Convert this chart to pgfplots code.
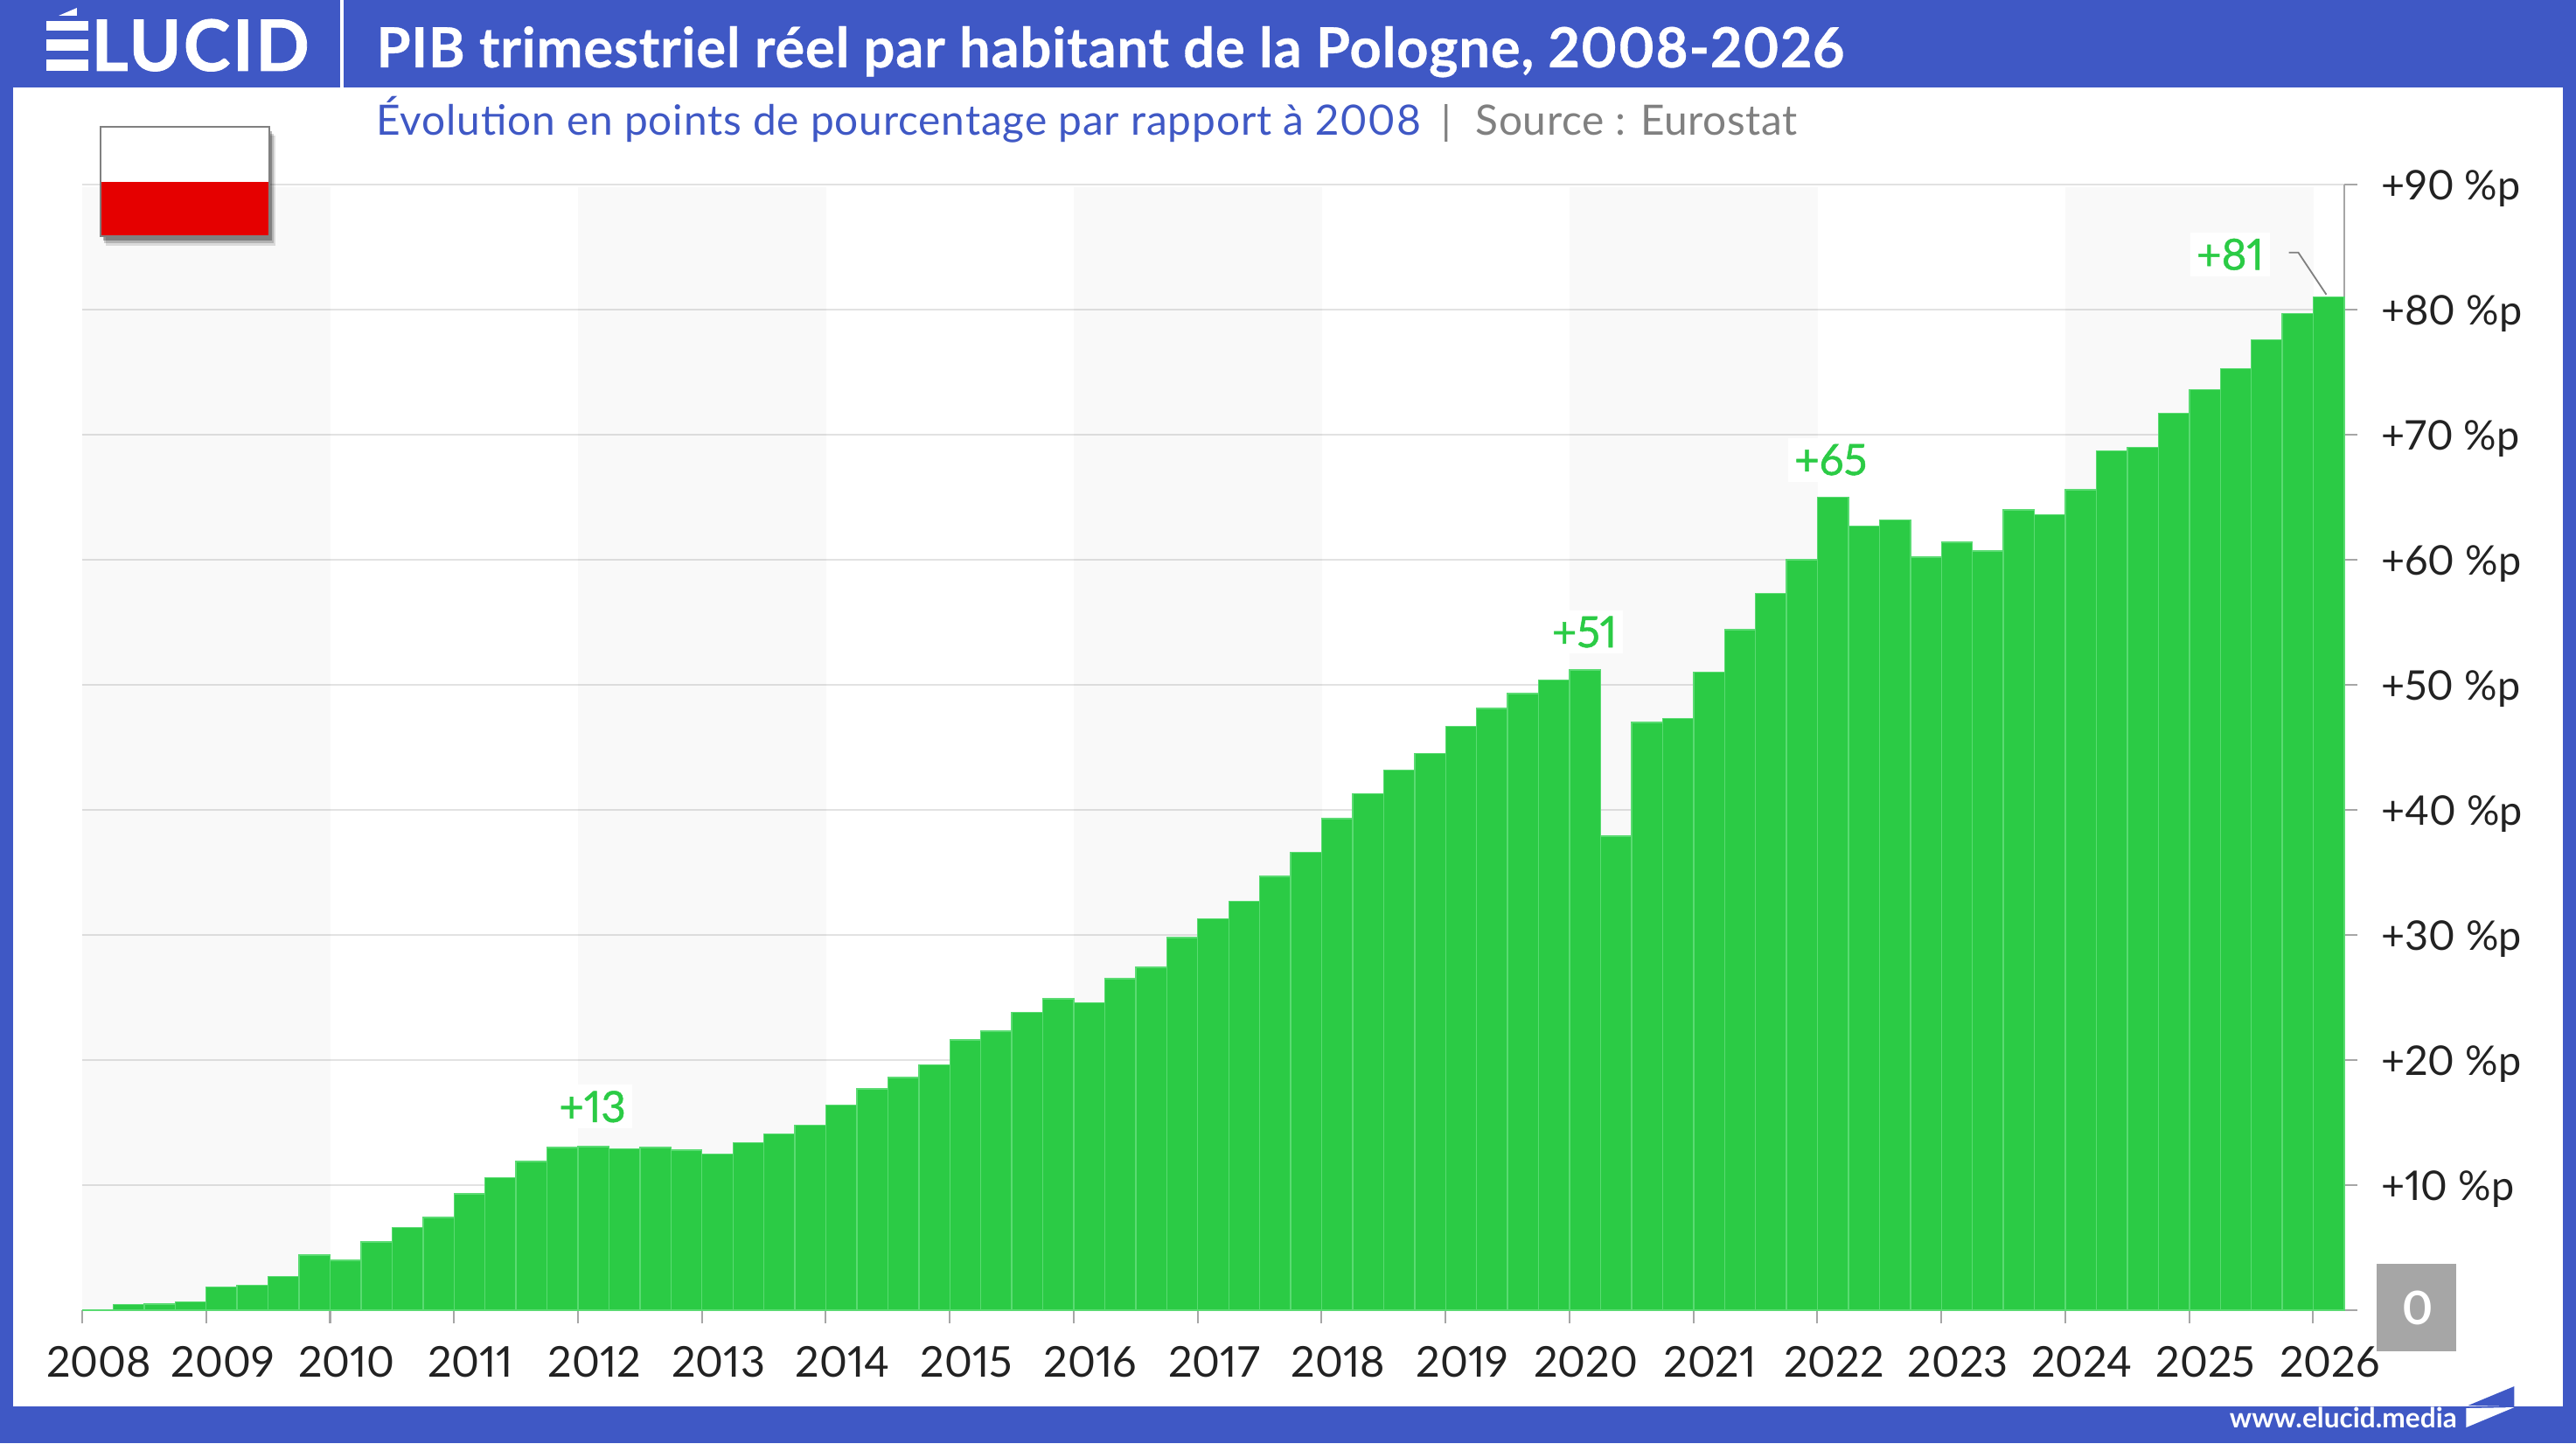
\documentclass[border=0pt]{standalone}
\usepackage{pgfplots}
\pgfplotsset{compat=1.18}
\usepackage{fontspec}
\setmainfont{Lato}[Numbers=Proportional]
\definecolor{eblue}{HTML}{3F58C5}
\definecolor{egreen}{HTML}{2BCB45}
\definecolor{esep}{HTML}{5ADB72}
\definecolor{egrid}{HTML}{E2E2E2}
\definecolor{eaxis}{HTML}{A6A6A6}
\definecolor{etext}{HTML}{222222}
\pgfplotsset{
  layers/barsover/.define layer set={axis background,axis grid,main,axis ticks,axis lines,axis tick labels,axis descriptions,axis foreground}{},
  set layers=barsover,
  band/.style={fill=black,fill opacity=0.022,draw=none},
}
\begin{document}
\begin{tikzpicture}
\fill[eblue] (0,0) rectangle (29.46cm,16.5cm);
% pixels of the reference: x right, y down
\begin{scope}[x=0.01cm,y=-0.01cm,yshift=16.5cm]
\fill[white] (15,100) rectangle (2933,1609);
\end{scope}

\begin{axis}[
  at={(0.94cm,1.52cm)}, anchor=south west,
  scale only axis, width=25.87cm, height=12.87cm,
  xmin=2008, xmax=2026.25, ymin=0, ymax=90,
  axis x line=bottom, axis y line=right,
  axis line style={eaxis,line width=0.6pt,-},
  xtick={2008,2009,...,2026},
  ytick={0,10,...,90},
  yticklabels={,+10 \%p,+20 \%p,+30 \%p,+40 \%p,+50 \%p,+60 \%p,+70 \%p,+80 \%p,+90 \%p},
  tick align=outside, major tick length=0.15cm,
  tick style={eaxis,line width=0.6pt},
  ymajorgrids, grid style={egrid,line width=0.5pt},
  /pgf/number format/assume math mode=true,
  /pgf/number format/set thousands separator={},
  xticklabel style={font=\fontsize{13.8}{14}\selectfont,text=etext,xshift=0.19cm,yshift=-0.14cm},
  yticklabel style={font=\fontsize{13.3}{14}\selectfont,text=etext,anchor=west,xshift=0.15cm,yshift=-0.05cm},
  clip=false,
]
\addplot[band] coordinates {(2008,0)(2010,0)(2010,89.8)(2008,89.8)};
\addplot[band] coordinates {(2012,0)(2014,0)(2014,89.8)(2012,89.8)};
\addplot[band] coordinates {(2016,0)(2018,0)(2018,89.8)(2016,89.8)};
\addplot[band] coordinates {(2020,0)(2022,0)(2022,89.8)(2020,89.8)};
\addplot[band] coordinates {(2024,0)(2026,0)(2026,89.8)(2024,89.8)};

\addplot[ybar interval,fill=egreen,draw=esep,line width=0.4pt] table {
2008.00 0
2008.25 0.45
2008.50 0.5
2008.75 0.66
2009.00 1.85
2009.25 2.0
2009.50 2.7
2009.75 4.4
2010.00 4.0
2010.25 5.45
2010.50 6.6
2010.75 7.4
2011.00 9.3
2011.25 10.6
2011.50 11.9
2011.75 13.0
2012.00 13.07
2012.25 12.9
2012.50 13.0
2012.75 12.8
2013.00 12.5
2013.25 13.4
2013.50 14.1
2013.75 14.8
2014.00 16.4
2014.25 17.7
2014.50 18.6
2014.75 19.6
2015.00 21.6
2015.25 22.3
2015.50 23.8
2015.75 24.9
2016.00 24.6
2016.25 26.5
2016.50 27.4
2016.75 29.8
2017.00 31.3
2017.25 32.7
2017.50 34.7
2017.75 36.6
2018.00 39.3
2018.25 41.3
2018.50 43.2
2018.75 44.5
2019.00 46.7
2019.25 48.1
2019.50 49.3
2019.75 50.4
2020.00 51.2
2020.25 37.9
2020.50 47.0
2020.75 47.3
2021.00 51.0
2021.25 54.4
2021.50 57.3
2021.75 60.0
2022.00 65.0
2022.25 62.7
2022.50 63.2
2022.75 60.2
2023.00 61.4
2023.25 60.7
2023.50 64.0
2023.75 63.6
2024.00 65.6
2024.25 68.7
2024.50 69.0
2024.75 71.7
2025.00 73.6
2025.25 75.3
2025.50 77.6
2025.75 79.7
2026.00 81.0
2026.25 81.0
};
\end{axis}

\begin{scope}[x=0.01cm,y=-0.01cm,yshift=16.5cm]
% flag
\fill[black,opacity=0.12] (121,155) rectangle (315,281);
\fill[black,opacity=0.18] (119,153) rectangle (313,278);
\fill[black,opacity=0.28] (118,150) rectangle (311,275);
\fill[white] (115,145) rectangle (308,208);
\fill[red!90!black] (115,208) rectangle (308,270);
\draw[gray,line width=0.5pt] (115,145) rectangle (308,270);
% header
\fill[white] (389,0) rectangle (393,100);
\fill[white] (53,24) rectangle (101,35);
\fill[white] (53,45) rectangle (101,58);
\fill[white] (53,68) rectangle (101,81);
\fill[white] (67,18) -- (88,9) -- (88,18) -- cycle;
\node[anchor=base west,inner sep=0,text=white] at (104,81) {\fontsize{23}{23}\selectfont\bfseries\addfontfeature{FakeBold=1,LetterSpace=3}LUCID};
\node[anchor=base west,inner sep=0,text=white] at (430,77) {\fontsize{18}{18}\selectfont\bfseries\addfontfeature{FakeBold=0.5,LetterSpace=1.3}PIB trimestriel réel par habitant de la Pologne, 2008-2026};
\node[anchor=base west,inner sep=0,text=eblue] at (430,155) {\fontsize{13.6}{14}\selectfont\addfontfeature{LetterSpace=1.8}Évolution en points de pourcentage par rapport à 2008};
\node[anchor=base,inner sep=0,text=gray] at (1655,155) {\fontsize{13}{14}\selectfont |};
\node[anchor=base west,inner sep=0,text=gray] at (1688,155) {\fontsize{13.6}{14}\selectfont\addfontfeature{LetterSpace=1.2}Source : Eurostat};
% annotations
\node[fill=white,text=egreen,inner sep=2pt] at (678,1266) {\fontsize{14}{14}\selectfont\addfontfeature{FakeBold=1}+13};
\node[fill=white,text=egreen,inner sep=2pt] at (1813,723) {\fontsize{14}{14}\selectfont\addfontfeature{FakeBold=1}+51};
\node[fill=white,text=egreen,inner sep=2pt] at (2095,526) {\fontsize{14}{14}\selectfont\addfontfeature{FakeBold=1}+65};
\node[fill=white,text=egreen,inner sep=2pt] at (2552,291) {\fontsize{14}{14}\selectfont\addfontfeature{FakeBold=1}+81};
\draw[gray,line width=0.5pt] (2619,289) -- (2630,289) -- (2662,337);
% zero box
\fill[black!35] (2720,1446) rectangle (2811,1546);
\node[text=white] at (2767,1496) {\fontsize{15}{15}\selectfont\bfseries 0};
% footer
\node[anchor=base east,inner sep=0,text=white] at (2812,1633) {\fontsize{9}{10}\selectfont\bfseries www.elucid.media};
\fill[eblue] (2824,1608) -- (2877,1586) -- (2877,1609) -- cycle;
\fill[white] (2822,1611) -- (2877,1610) -- (2822,1633) -- cycle;
\end{scope}
\end{tikzpicture}
\end{document}
